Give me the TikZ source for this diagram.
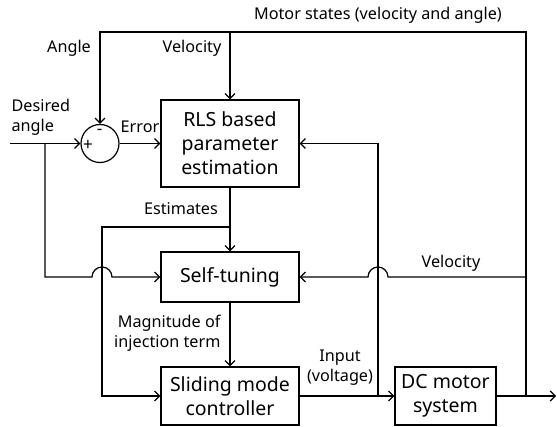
\documentclass[tikz,border=0pt]{standalone}
\usepackage{fontspec}
\setmainfont{Noto Sans}
\usetikzlibrary{arrows.meta}
\begin{document}
\begin{tikzpicture}[x=1pt,y=-1pt,
  line width=1.2pt,
  arr/.style={-{Straight Barb[length=5pt,width=10pt,line width=1.2pt]}},
  blk/.style={draw,rectangle,align=center,inner sep=0pt,font=\fontsize{19.5}{24}\selectfont},
  lbl/.style={inner sep=0pt,font=\fontsize{16.2}{20}\selectfont}]
\useasboundingbox (0,0) rectangle (557,427);
% blocks
\node[blk,minimum width=138pt,minimum height=87pt] (rls) at (230,143.5) {RLS based\\parameter\\estimation};
\node[blk,minimum width=138pt,minimum height=50pt] (self) at (230,277) {Self-tuning};
\node[blk,minimum width=138pt,minimum height=58pt] (smc) at (230,396) {Sliding mode\\controller};
\node[blk,minimum width=101pt,minimum height=58pt] (dc) at (445.5,396) {DC motor\\system};
\node[draw,circle,minimum size=38pt,inner sep=0pt] (sum) at (100,143.5) {};
\node[lbl,font=\fontsize{17}{17}\selectfont] (plus) at (88,145) {+};
\node[lbl,font=\fontsize{17}{17}\selectfont] (minus) at (99.5,132) {-};
% coordinates
\coordinate (din) at (10,143.5);
\coordinate (b1) at (45,143.5);
\coordinate (b1d) at (45,277);
\coordinate (tl) at (100,32);
\coordinate (tr) at (526,32);
\coordinate (tv) at (230,32);
\coordinate (b2) at (526,396);
\coordinate (b2v) at (526,277);
\coordinate (out) at (556,396);
\coordinate (b3) at (378,396);
\coordinate (b3u) at (378,143.5);
\coordinate (e1) at (230,227);
\coordinate (e2) at (102,227);
\coordinate (e3) at (102,396);
% connectors
\draw[arr] (din) -- (sum.west);
\draw[arr] (sum.east) -- (rls.west);
\draw[arr] (b1) -- (b1d) -- (92,277) arc[start angle=180,end angle=0,radius=10pt] -- (self.west);
\draw[arr] (b2) -- (tr) -- (tl) -- (sum.north);
\draw[arr] (tv) -- (rls.north);
\draw[arr] (dc.east) -- (out);
\draw[arr] (b2v) -- (388,277) arc[start angle=0,end angle=180,radius=10pt] -- (self.east);
\draw[arr] (smc.east) -- (dc.west);
\draw[arr] (b3) -- (b3u) -- (rls.east);
\draw[arr] (rls.south) -- (self.north);
\draw[arr] (e1) -- (e2) -- (e3) -- (smc.west);
\draw[arr] (self.south) -- (smc.north);
% labels
\node[lbl] (lms) at (378,15) {Motor states (velocity and angle)};
\node[lbl] (lang) at (69,48) {Angle};
\node[lbl] (lvel) at (192,48) {Velocity};
\node[lbl,align=left,anchor=west] (ldes) at (11,117) {Desired\\angle};
\node[lbl] (lerr) at (140,127) {Error};
\node[lbl] (lest) at (181,209) {Estimates};
\node[lbl,align=right,anchor=east] (lmag) at (221,333) {Magnitude of\\injection term};
\node[lbl] (lvel2) at (451,263) {Velocity};
\node[lbl,align=center] (linp) at (340,368) {Input\\(voltage)};
\end{tikzpicture}
\end{document}
